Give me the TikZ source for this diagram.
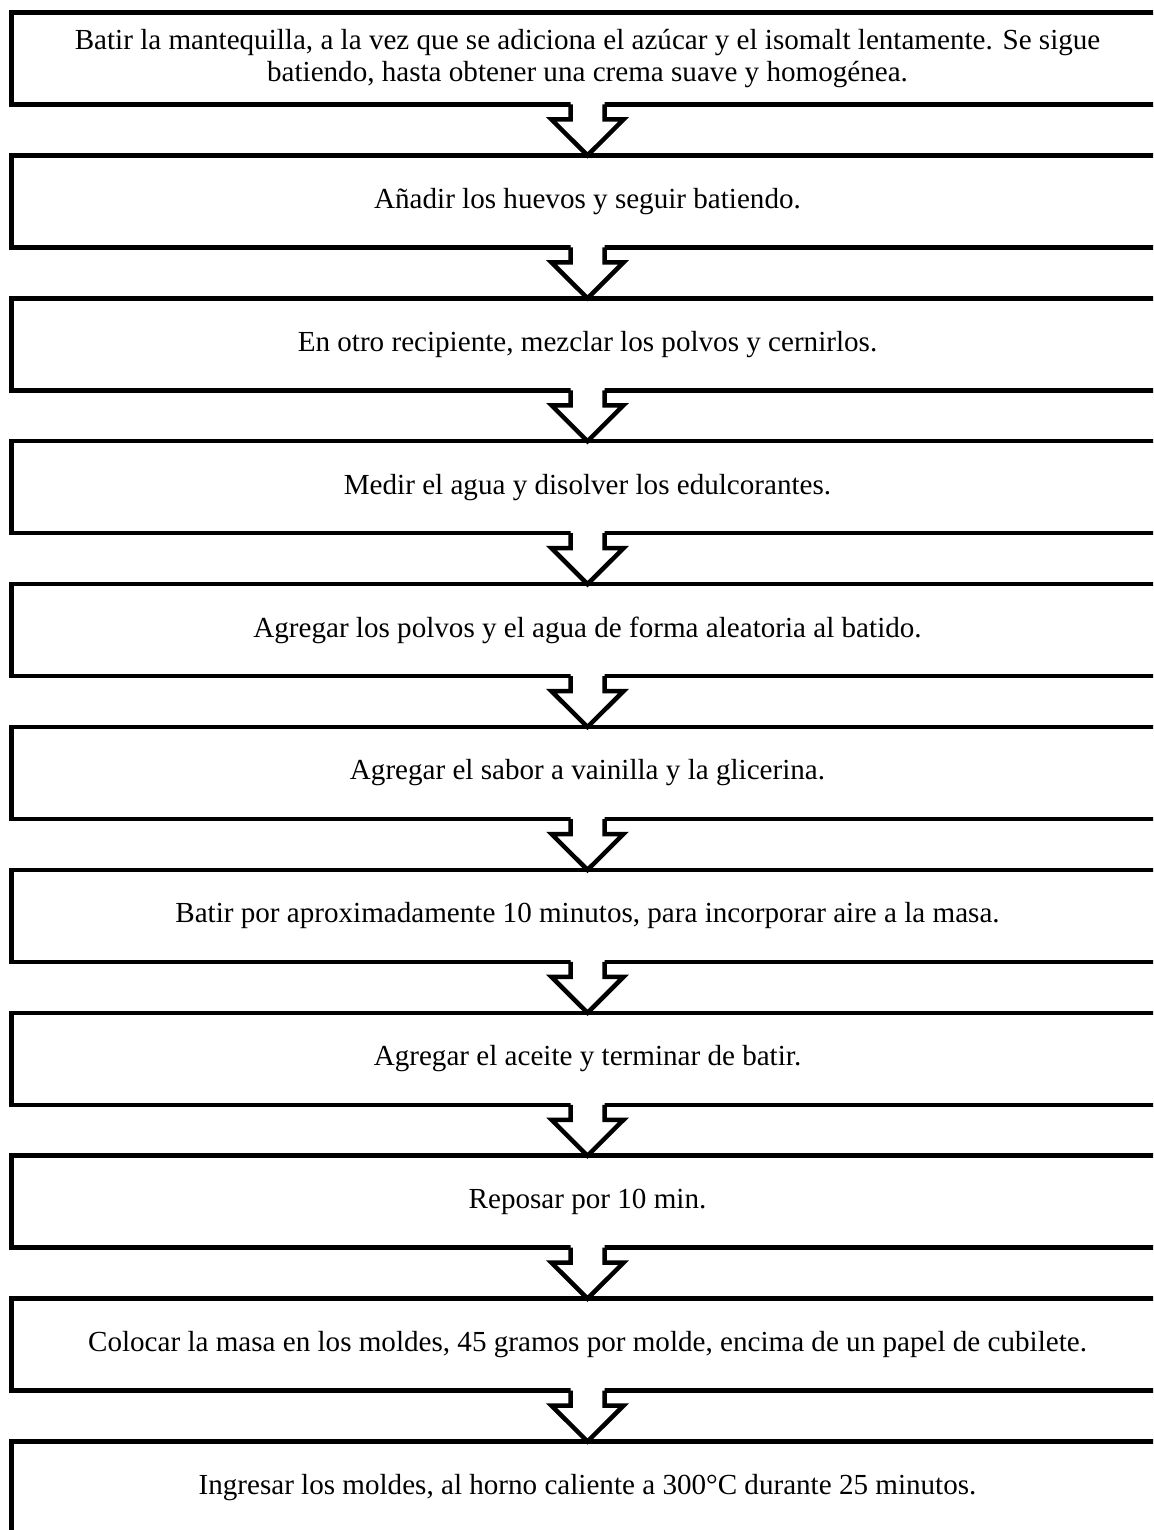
\documentclass[tikz,border=0pt]{standalone}
\usepackage{fontspec}
\setmainfont{Liberation Serif}
\usetikzlibrary{calc}
\tikzset{
  stepbox/.style={draw=black, line width=4.5pt, fill=white, rectangle, outer sep=0pt,
    minimum width=1152pt, minimum height=92pt, inner sep=0pt, align=center,
    font=\fontsize{29.1}{31.5}\selectfont},
  arrowline/.style={draw=black, line width=4.5pt, line join=miter},
}
\newcommand\flecha[2]{%
  \fill[white] ($(#1.south)+(-17,-3)$) -- ($(#1.south)+(-17,15)$) -- ($(#1.south)+(-36,15)$)
    -- (#2.north) -- ($(#1.south)+(36,15)$) -- ($(#1.south)+(17,15)$) -- ($(#1.south)+(17,-3)$) -- cycle;
  \draw[arrowline] ($(#1.south)+(-17,0)$) -- ($(#1.south)+(-17,15)$) -- ($(#1.south)+(-36,15)$)
    -- (#2.north) -- ($(#1.south)+(36,15)$) -- ($(#1.south)+(17,15)$) -- ($(#1.south)+(17,0)$);
}
\begin{document}
\begin{tikzpicture}[x=1pt,y=-1pt]
\clip (0,0) rectangle (1153,1530);
\fill[white] (0,0) rectangle (1153,1530);
\node[stepbox] (b1) at (587.5,58.5) {Batir la mantequilla, a la vez que se adiciona el azúcar y el isomalt lentamente. Se sigue\\batiendo, hasta obtener una crema suave y homogénea.};
\node[stepbox] (b2) at (587.5,201.4) {Añadir los huevos y seguir batiendo.};
\node[stepbox] (b3) at (587.5,344.3) {En otro recipiente, mezclar los polvos y cernirlos.};
\node[stepbox] (b4) at (587.5,487.2) {Medir el agua y disolver los edulcorantes.};
\node[stepbox] (b5) at (587.5,630.1) {Agregar los polvos y el agua de forma aleatoria al batido.};
\node[stepbox] (b6) at (587.5,773) {Agregar el sabor a vainilla y la glicerina.};
\node[stepbox] (b7) at (587.5,915.9) {Batir por aproximadamente 10 minutos, para incorporar aire a la masa.};
\node[stepbox] (b8) at (587.5,1058.8) {Agregar el aceite y terminar de batir.};
\node[stepbox] (b9) at (587.5,1201.7) {Reposar por 10 min.};
\node[stepbox] (b10) at (587.5,1344.6) {Colocar la masa en los moldes, 45 gramos por molde, encima de un papel de cubilete.};
\node[stepbox] (b11) at (587.5,1487.5) {Ingresar los moldes, al horno caliente a 300°C durante 25 minutos.};
\flecha{b1}{b2}
\flecha{b2}{b3}
\flecha{b3}{b4}
\flecha{b4}{b5}
\flecha{b5}{b6}
\flecha{b6}{b7}
\flecha{b7}{b8}
\flecha{b8}{b9}
\flecha{b9}{b10}
\flecha{b10}{b11}
\end{tikzpicture}
\end{document}
